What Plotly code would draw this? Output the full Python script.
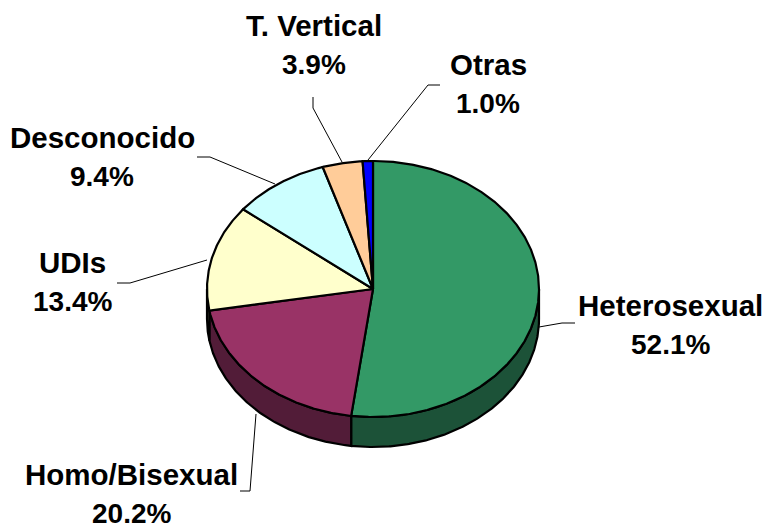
import numpy as np
import plotly.graph_objects as go

labels = ["Heterosexual", "Homo/Bisexual", "UDIs", "Desconocido", "T. Vertical", "Otras"]
values = [52.1, 20.2, 13.4, 9.4, 3.9, 1.0]
top_colors = ["#339966", "#993366", "#FFFFCC", "#CCFFFF", "#FFCC99", "#0000FF"]
side_colors = ["#1C5238", "#521C38", "#80806A", "#6A8080", "#806A50", "#00007F"]

CX, CY, RX, RY, DEPTH = 373, 289, 166, 128, 30
LW = 2.2

label_xy = {
    "Heterosexual": (670, 305),
    "Homo/Bisexual": (131, 474),
    "UDIs": (72, 262),
    "Desconocido": (102, 137),
    "T. Vertical": (314, 25),
    "Otras": (488, 64),
}
leaders = {
    "Heterosexual": ([575, 562, 539], [323, 323, 327]),
    "Homo/Bisexual": ([240, 250, 256], [491, 491, 414]),
    "UDIs": ([117, 130, 207], [283, 283, 260]),
    "Desconocido": ([197, 210, 275], [157, 157, 184]),
    "T. Vertical": ([313, 313, 342], [97, 108, 162]),
    "Otras": ([440, 428, 368], [85, 85, 160]),
}


def rim(a0, a1, dy=0):
    t = np.radians(np.linspace(a0, a1, max(int(abs(a1 - a0) * 2), 2)))
    return CX + RX * np.sin(t), CY + dy - RY * np.cos(t)


fig = go.Figure()
edges = np.concatenate([[0], np.cumsum(values)]) / sum(values) * 360

# side wall (only the front half of the disc shows)
for i in range(len(values)):
    a0, a1 = max(edges[i], 90), min(edges[i + 1], 270)
    if a1 <= a0:
        continue
    x0, y0 = rim(a0, a1)
    x1, y1 = rim(a1, a0, DEPTH)
    fig.add_trace(go.Scatter(
        x=np.concatenate([x0, x1, x0[:1]]), y=np.concatenate([y0, y1, y0[:1]]),
        mode="lines", fill="toself", fillcolor=side_colors[i],
        line=dict(color="black", width=LW), hoverinfo="skip", showlegend=False))

# top face
for i, name in enumerate(labels):
    x0, y0 = rim(edges[i], edges[i + 1])
    fig.add_trace(go.Scatter(
        x=np.concatenate([[CX], x0, [CX]]), y=np.concatenate([[CY], y0, [CY]]),
        mode="lines", fill="toself", fillcolor=top_colors[i],
        line=dict(color="black", width=LW), name=name,
        text=f"{name}: {values[i]:.1f}%", hoverinfo="text", showlegend=False))

# leader lines and labels
for i, name in enumerate(labels):
    lx, ly = leaders[name]
    fig.add_trace(go.Scatter(x=lx, y=ly, mode="lines",
                             line=dict(color="black", width=1),
                             hoverinfo="skip", showlegend=False))
    tx, ty = label_xy[name]
    for text, yy, size in ((name, ty, 29.5), (f"{values[i]:.1f}%", ty + 39, 28)):
        fig.add_annotation(x=tx, y=yy, text=f"<b>{text}</b>", showarrow=False,
                           xanchor="center", yanchor="middle",
                           font=dict(family="Liberation Sans", size=size, color="black"))

fig.update_layout(
    width=767, height=526, margin=dict(l=0, r=0, t=0, b=0),
    paper_bgcolor="white", plot_bgcolor="white", showlegend=False,
    xaxis=dict(range=[0, 767], visible=False, fixedrange=True),
    yaxis=dict(range=[526, 0], visible=False, fixedrange=True),
)
fig.write_html("out.html", config=dict(displayModeBar=False),
               post_script="document.body.style.margin='0';")
